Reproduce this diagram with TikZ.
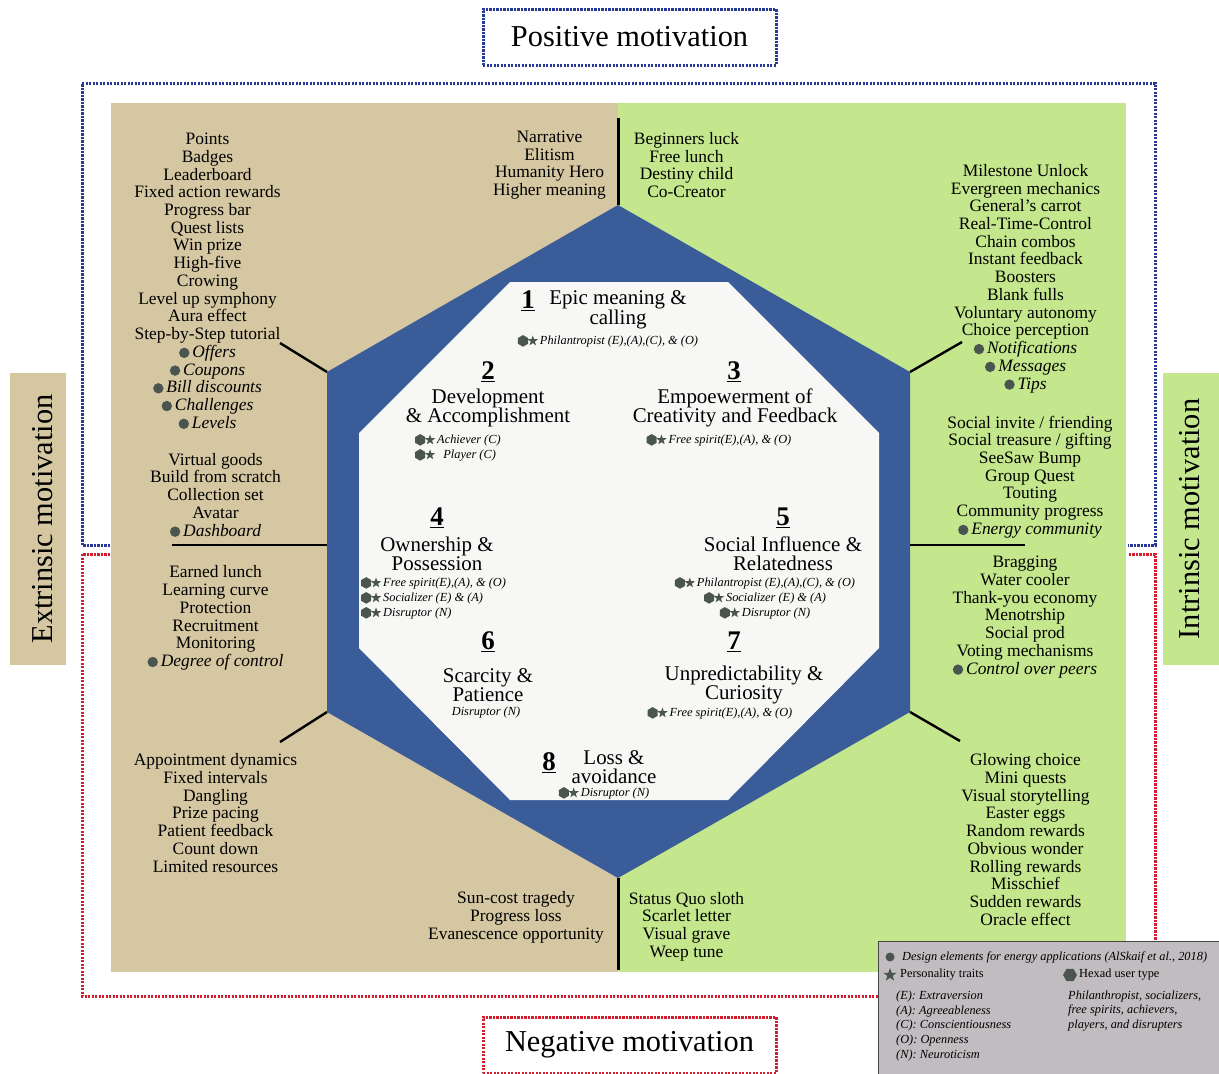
\documentclass[tikz,border=0pt]{standalone}
\usepackage{fontspec}
\setmainfont{Liberation Serif}
\usetikzlibrary{shapes.geometric}
\definecolor{tanbg}{RGB}{213,199,162}
\definecolor{greenbg}{RGB}{196,230,140}
\definecolor{hexblue}{RGB}{58,92,153}
\definecolor{octfill}{RGB}{247,247,245}
\definecolor{iconc}{RGB}{74,85,80}
\definecolor{posblue}{RGB}{40,56,150}
\definecolor{negred}{RGB}{212,28,44}
\definecolor{legendbg}{RGB}{193,188,192}
\definecolor{legendline}{RGB}{70,70,70}
\newsavebox\dotbx
\newsavebox\hsbx
\newcommand{\bi}[1]{\usebox\dotbx\,\textit{#1}}
\newcommand{\hs}{\usebox\hsbx\,}
% five-pointed star path: outer radius #1, inner radius #2
\newcommand{\starpath}[2]{%
  \pgfpathmoveto{\pgfpointpolar{90}{#1}}%
  \pgfpathlineto{\pgfpointpolar{126}{#2}}%
  \pgfpathlineto{\pgfpointpolar{162}{#1}}%
  \pgfpathlineto{\pgfpointpolar{198}{#2}}%
  \pgfpathlineto{\pgfpointpolar{234}{#1}}%
  \pgfpathlineto{\pgfpointpolar{270}{#2}}%
  \pgfpathlineto{\pgfpointpolar{306}{#1}}%
  \pgfpathlineto{\pgfpointpolar{342}{#2}}%
  \pgfpathlineto{\pgfpointpolar{18}{#1}}%
  \pgfpathlineto{\pgfpointpolar{54}{#2}}%
  \pgfpathclose}
% hexagon path: radius #1
\newcommand{\hexpath}[1]{%
  \pgfpathmoveto{\pgfpointpolar{90}{#1}}%
  \pgfpathlineto{\pgfpointpolar{150}{#1}}%
  \pgfpathlineto{\pgfpointpolar{210}{#1}}%
  \pgfpathlineto{\pgfpointpolar{270}{#1}}%
  \pgfpathlineto{\pgfpointpolar{330}{#1}}%
  \pgfpathlineto{\pgfpointpolar{30}{#1}}%
  \pgfpathclose}
\tikzset{
  lst/.style={align=center, inner sep=0pt, font=\fontsize{17.5}{17.8}\selectfont},
  ttl/.style={align=center, inner sep=0pt, font=\fontsize{21}{19.2}\selectfont},
  num/.style={inner sep=0pt, font=\fontsize{27}{27}\selectfont\bfseries},
  trait/.style={inner sep=0pt, font=\fontsize{12.4}{15}\selectfont\itshape},
  lgd/.style={inner sep=0pt, anchor=west, font=\fontsize{12.4}{15}\selectfont},
  dotline/.style={line width=3bp, dash pattern=on 2.4bp off 1.1bp},
  conn/.style={line width=2.4bp, black},
  divider/.style={line width=3bp, black},
  sidelbl/.style={inner sep=0pt, rotate=90, font=\fontsize{30.5}{30.5}\selectfont},
  headlbl/.style={dotline, minimum width=293bp, minimum height=56bp, inner sep=0pt,
                  font=\fontsize{30.5}{30.5}\selectfont},
  hexicon/.style={regular polygon, regular polygon sides=6, fill=iconc, inner sep=0pt, minimum size=#1},
  staricon/.style={star, star points=5, star point ratio=2.5, fill=iconc, inner sep=0pt, minimum size=#1},
}
\begin{document}
% inline icons: bullet dot, and hexagon + star pair
\sbox\dotbx{\begin{pgfpicture}\pgfsetbaseline{-4.5bp}%
  \pgfsetfillcolor{iconc}\pgfpathcircle{\pgfpointorigin}{5.2bp}\pgfusepath{fill}%
  \end{pgfpicture}}
\sbox\hsbx{\begin{pgfpicture}\pgfsetbaseline{-3.4bp}%
  \pgfsetfillcolor{iconc}\hexpath{5.8bp}\pgfusepath{fill}%
  \pgftransformshift{\pgfpoint{9.8bp}{0bp}}\starpath{5.4bp}{2.2bp}\pgfusepath{fill}%
  \end{pgfpicture}}
\begin{tikzpicture}[x=1bp,y=-1bp]
\useasboundingbox (0,0) rectangle (1219,1074);

% positive / negative frames
\draw[dotline,posblue] (110,545) -- (82,545) -- (82,83) -- (1155,83) -- (1155,545) -- (1128,545);
\draw[dotline,negred] (110,554) -- (82,554) -- (82,996) -- (1155,996) -- (1155,554) -- (1128,554);
\node[headlbl, draw=posblue] (pos) at (629.5,37) {Positive motivation};
\node[headlbl, draw=negred] (neg) at (629.5,1045) {Negative motivation};

% extrinsic / intrinsic halves
\fill[tanbg] (111,103) rectangle (618,972);
\fill[greenbg] (618,103) rectangle (1126,972);
\fill[tanbg] (10,373) rectangle (66,665);
\fill[greenbg] (1163,373) rectangle (1219,665);
\node[sidelbl] (ext) at (43,519) {Extrinsic motivation};
\node[sidelbl] (int) at (1190,519) {Intrinsic motivation};

% hexagon and octagon
\coordinate (hT) at (618,205);
\coordinate (hUR) at (910,372);
\coordinate (hLR) at (910,712);
\coordinate (hB) at (618,878);
\coordinate (hLL) at (327,712);
\coordinate (hUL) at (327,372);
\coordinate (hL) at (327,545);
\coordinate (hR) at (910,545);
\fill[hexblue] (hT) -- (hUR) -- (hLR) -- (hB) -- (hLL) -- (hUL) -- cycle;
\fill[octfill] (510,282) -- (728,282) -- (879,433) -- (879,648) -- (728,800)
  -- (510,800) -- (359,648) -- (359,433) -- cycle;

% connector ends
\coordinate (cT) at (618,118);
\coordinate (cB) at (618,970);
\coordinate (cUL) at (280,343);
\coordinate (cUR) at (962,342);
\coordinate (cLL) at (280,742);
\coordinate (cLR) at (960,741);
\coordinate (cL) at (172,545);
\coordinate (cR) at (1025,545);
\draw[divider] (cT) -- (hT);
\draw[divider] (hB) -- (cB);
\draw[conn] (cUL) -- (hUL);
\draw[conn] (cUR) -- (hUR);
\draw[conn] (cLL) -- (hLL);
\draw[conn] (cLR) -- (hLR);
\draw[conn] (cL) -- (hL);
\draw[conn] (hR) -- (cR);

% element lists
\node[lst] (l1) at (207.5,281) {Points\\Badges\\Leaderboard\\Fixed action rewards\\Progress bar\\Quest lists\\Win prize\\High-five\\Crowing\\Level up symphony\\Aura effect\\Step-by-Step tutorial\\\bi{Offers}\\\bi{Coupons}\\\bi{Bill discounts}\\\bi{Challenges}\\\bi{Levels}};
\node[lst] (l2) at (215.5,495) {Virtual goods\\Build from scratch\\Collection set\\Avatar\\\bi{Dashboard}};
\node[lst] (l3) at (215.5,618) {Earned lunch\\Learning curve\\Protection\\Recruitment\\Monitoring\\\bi{Degree of control}};
\node[lst] (l4) at (215.5,813) {Appointment dynamics\\Fixed intervals\\Dangling\\Prize pacing\\Patient feedback\\Count down\\Limited resources};
\node[lst] (l5) at (516,917.5) {Sun-cost tragedy\\Progress loss\\Evanescence opportunity};
\node[lst] (l6) at (686.5,926.5) {Status Quo sloth\\Scarlet letter\\Visual grave\\Weep tune};
\node[lst] (l7) at (549.5,165) {Narrative\\Elitism\\Humanity Hero\\Higher meaning};
\node[lst] (l8) at (686.5,165) {Beginners luck\\Free lunch\\Destiny child\\Co-Creator};
\node[lst] (r1) at (1025.5,278.5) {Milestone Unlock\\Evergreen mechanics\\General’s carrot\\Real-Time-Control\\Chain combos\\Instant feedback\\Boosters\\Blank fulls\\Voluntary autonomy\\Choice perception\\\bi{Notifications}\\\bi{Messages}\\\bi{Tips}};
\node[lst] (r2) at (1030,477) {Social invite / friending\\Social treasure / gifting\\SeeSaw Bump\\Group Quest\\Touting\\Community progress\\\bi{Energy community}};
\node[lst] (r3) at (1025,617) {Bragging\\Water cooler\\Thank-you economy\\Menotrship\\Social prod\\Voting mechanisms\\\bi{Control over peers}};
\node[lst] (r4) at (1025.5,839.5) {Glowing choice\\Mini quests\\Visual storytelling\\Easter eggs\\Random rewards\\Obvious wonder\\Rolling rewards\\Misschief\\Sudden rewards\\Oracle effect};

% core drives
\node[num] (n1) at (528,301) {\underline{1}};
\node[ttl, font=\fontsize{21}{20.2}\selectfont] (t1) at (618,309.5) {Epic meaning \&\\calling};
\node[trait] (p1) at (608,341) {\hs Philantropist (E),(A),(C), \& (O)};

\node[num] (n2) at (488,372) {\underline{2}};
\node[ttl] (t2) at (488,408) {Development\\\& Accomplishment};
\node[trait, anchor=west, align=left] (p2) at (415,447.5) {\hs Achiever (C)\\\hs\enspace Player (C)};

\node[num] (n3) at (734,372) {\underline{3}};
\node[ttl] (t3) at (735,408) {Empoewerment of\\Creativity and Feedback};
\node[trait] (p3) at (719,440) {\hs Free spirit(E),(A), \& (O)};

\node[num] (n4) at (437,518) {\underline{4}};
\node[ttl] (t4) at (437,554) {Ownership \&\\Possession};
\node[trait, anchor=west, align=left] (p4) at (361,598) {\hs Free spirit(E),(A), \& (O)\\\hs Socializer (E) \& (A)\\\hs Disruptor (N)};

\node[num] (n5) at (783,518) {\underline{5}};
\node[ttl] (t5) at (783,554) {Social Influence \&\\Relatedness};
\node[trait, align=center] (p5) at (765,598) {\hs Philantropist (E),(A),(C), \& (O)\\\hs Socializer (E) \& (A)\\\hs Disruptor (N)};

\node[num] (n6) at (488,642) {\underline{6}};
\node[ttl] (t6) at (488,685) {Scarcity \&\\Patience};
\node[trait] (p6) at (486,713) {Disruptor (N)};

\node[num] (n7) at (734,642) {\underline{7}};
\node[ttl] (t7) at (744,685) {Unpredictability \&\\Curiosity};
\node[trait] (p7) at (720,713) {\hs Free spirit(E),(A), \& (O)};

\node[num] (n8) at (549,763) {\underline{8}};
\node[ttl] (t8) at (614,767) {Loss \&\\avoidance};
\node[trait] (p8) at (604,793) {\hs Disruptor (N)};

% legend
\node[draw=legendline, line width=1bp, fill=legendbg, anchor=north west, inner sep=0pt,
      minimum width=341bp, minimum height=134bp] (legend) at (878,941) {};
\fill[iconc] (890,957) circle (4.5bp);
\node[lgd] (lg1) at (902,957) {\itshape Design elements for energy applications (AlSkaif et al., 2018)};
\node[staricon=14bp] (lgstar) at (890,975) {};
\node[lgd] (lg2) at (900,975) {Personality traits};
\node[hexicon=14bp] (lghex) at (1070,975) {};
\node[lgd] (lg3) at (1079,975) {Hexad user type};
\node[lgd, align=left] (lg4) at (896,1026) {\itshape (E): Extraversion\\\itshape (A): Agreeableness\\\itshape (C): Conscientiousness\\\itshape (O): Openness\\\itshape (N): Neuroticism};
\node[lgd, align=left] (lg5) at (1068,1011) {\itshape Philanthropist, socializers,\\\itshape free spirits, achievers,\\\itshape players, and disrupters};
\end{tikzpicture}
\end{document}
